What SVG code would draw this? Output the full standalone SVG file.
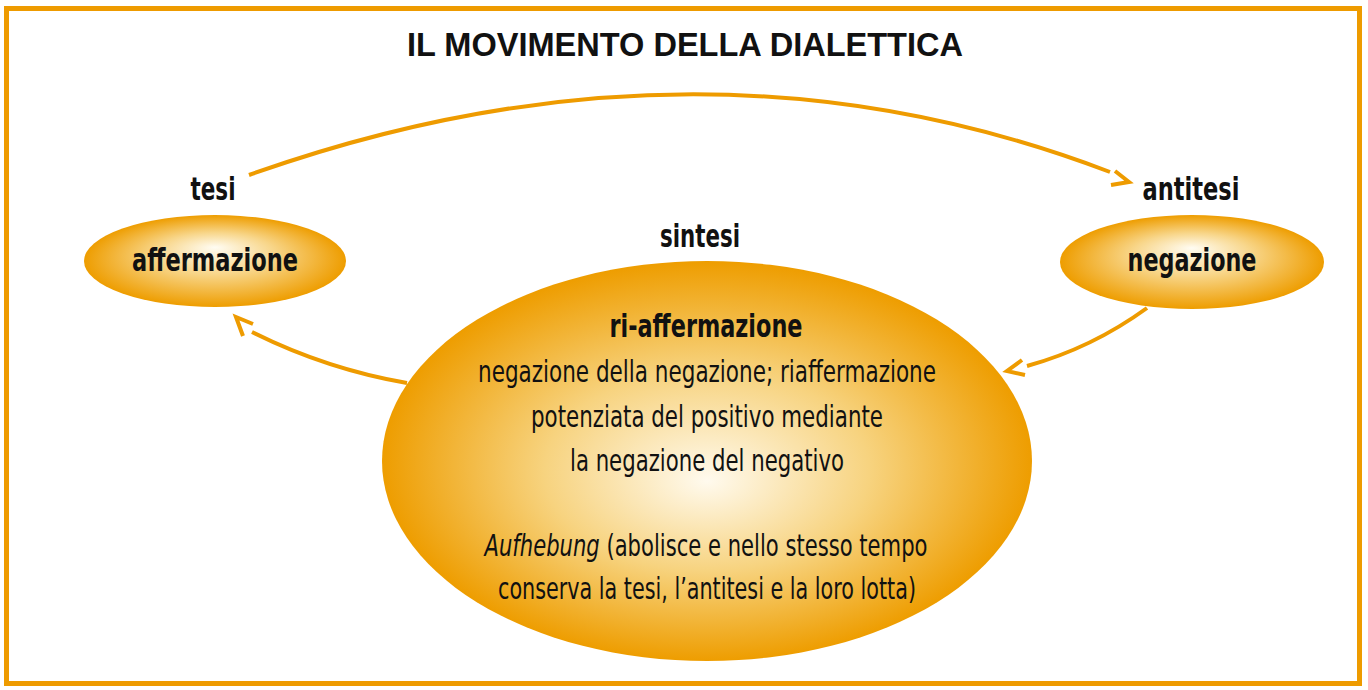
<svg xmlns="http://www.w3.org/2000/svg" width="1368" height="690" viewBox="0 0 1368 690">
<style>
.frame{fill:#fff;stroke:#EE9B00;stroke-width:5}
.conn{fill:none;stroke:#EE9B00;stroke-width:4;stroke-linecap:butt;stroke-linejoin:miter}
.t{font-family:"Liberation Sans Narrow","DejaVu Sans Condensed","Liberation Sans",Arial,sans-serif;fill:#111;text-anchor:middle}
.b{font-weight:bold}
.title{font-family:"Liberation Sans",Arial,sans-serif;font-weight:bold;font-size:34px;fill:#111;text-anchor:middle}
.lbl{font-size:32px}
.body{font-size:31px}
</style>
<defs>
<radialGradient id="gs" cx="50%" cy="50%" r="50%" fx="50%" fy="35%">
<stop offset="0" stop-color="#FFFCF2"/>
<stop offset="0.45" stop-color="#F8D68A"/>
<stop offset="1" stop-color="#EE9D00"/>
</radialGradient>
<radialGradient id="gb" cx="50%" cy="50%" r="50%" fx="50%" fy="55%">
<stop offset="0" stop-color="#FFFAEE"/>
<stop offset="0.5" stop-color="#F7D37F"/>
<stop offset="1" stop-color="#EE9D00"/>
</radialGradient>
</defs>
<rect class="frame" x="6.5" y="8.5" width="1353" height="675"/>
<text class="title" x="685" y="56" textLength="556" lengthAdjust="spacingAndGlyphs">IL MOVIMENTO DELLA DIALETTICA</text>
<g id="connectors">
<path class="conn" d="M249,175 Q699,15 1110,172"/>
<polyline class="conn" points="1115,171 1129,182 1111,185"/>
<path class="conn" d="M407,383 Q326,369 252,332"/>
<polyline class="conn" points="253,324 236,317 243,336"/>
<path class="conn" d="M1147,308 Q1092,348 1027,366"/>
<polyline class="conn" points="1022,360 1007,371 1025,375"/>
</g>
<g id="tesi">
<ellipse cx="215" cy="261" rx="131" ry="46" fill="url(#gs)"/>
<text class="t b lbl" x="213" y="200" textLength="45" lengthAdjust="spacingAndGlyphs">tesi</text>
<text class="t b lbl" x="215" y="271" textLength="166" lengthAdjust="spacingAndGlyphs">affermazione</text>
</g>
<g id="antitesi">
<ellipse cx="1192" cy="262" rx="132" ry="47" fill="url(#gs)"/>
<text class="t b lbl" x="1191" y="200" textLength="97" lengthAdjust="spacingAndGlyphs">antitesi</text>
<text class="t b lbl" x="1192" y="271" textLength="129" lengthAdjust="spacingAndGlyphs">negazione</text>
</g>
<g id="sintesi">
<ellipse cx="707" cy="461" rx="325" ry="200" fill="url(#gb)"/>
<text class="t b lbl" x="700" y="247" textLength="80" lengthAdjust="spacingAndGlyphs">sintesi</text>
<text class="t b lbl" x="706" y="337" textLength="193" lengthAdjust="spacingAndGlyphs">ri-affermazione</text>
<text class="t body" x="707" y="382" textLength="458" lengthAdjust="spacingAndGlyphs">negazione della negazione; riaffermazione</text>
<text class="t body" x="707" y="427" textLength="352" lengthAdjust="spacingAndGlyphs">potenziata del positivo mediante</text>
<text class="t body" x="707" y="471" textLength="274" lengthAdjust="spacingAndGlyphs">la negazione del negativo</text>
<text class="t body" x="706" y="556" textLength="443" lengthAdjust="spacingAndGlyphs"><tspan font-style="italic">Aufhebung</tspan> (abolisce e nello stesso tempo</text>
<text class="t body" x="707" y="599" textLength="418" lengthAdjust="spacingAndGlyphs">conserva la tesi, l’antitesi e la loro lotta)</text>
</g>
</svg>
